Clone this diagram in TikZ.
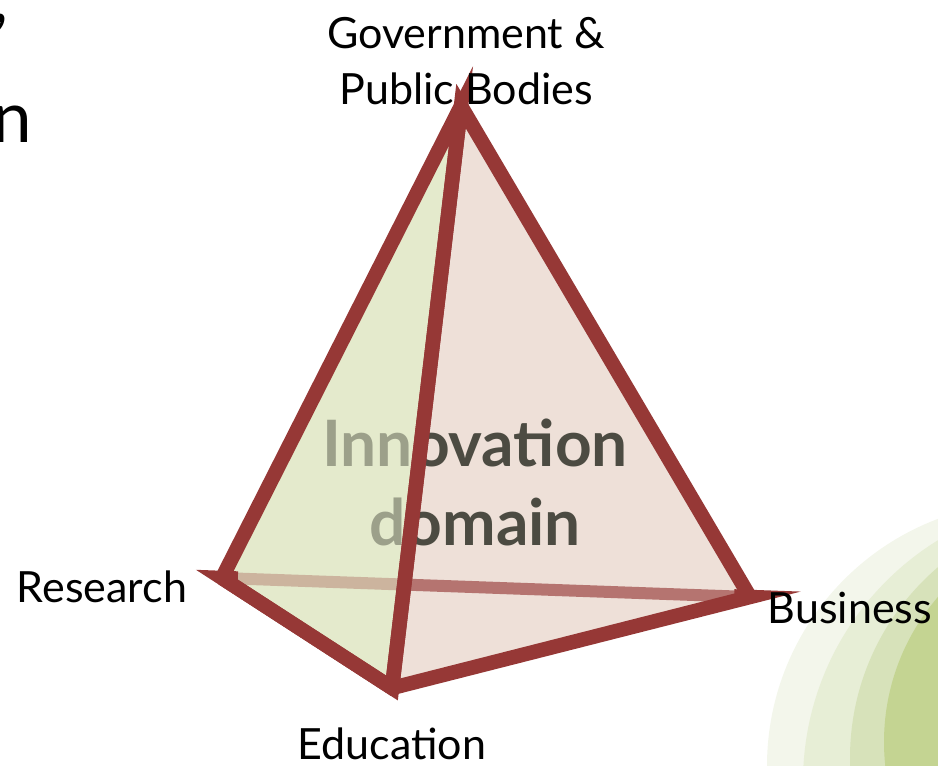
\documentclass[tikz,border=0pt]{standalone}
\usepackage{fontspec}
\setmainfont{Lato}
\usetikzlibrary{calc}
\definecolor{edgered}{RGB}{150,56,54}
\definecolor{facegreen}{RGB}{228,234,204}
\definecolor{facepink}{RGB}{238,224,216}
\definecolor{arcA}{RGB}{243,246,235}
\definecolor{arcB}{RGB}{231,238,214}
\definecolor{arcC}{RGB}{215,226,186}
\definecolor{arcD}{RGB}{196,212,146}
\definecolor{txtdark}{RGB}{48,50,40}
\begin{document}
\begin{tikzpicture}[x=1pt,y=-1pt,
  edge/.style={draw=edgered,line width=14.5pt,line join=miter,miter limit=10},
  backedge/.style={draw=edgered,line width=12pt,opacity=0.75},
  lbl/.style={font=\fontsize{43}{50}\selectfont,inner sep=0pt,anchor=base},
  title/.style={font=\fontsize{64}{68}\selectfont\bfseries,text=txtdark,inner sep=0pt,anchor=base},
  frag/.style={font=\fontsize{71}{80}\selectfont,inner sep=0pt}]
\useasboundingbox (0,0) rectangle (938,766);
\begin{scope}
\clip (0,0) rectangle (938,766);
\fill[arcA] (1031,766) circle (264);
\fill[arcB] (1087,782) circle (284);
\fill[arcC] (1101,758) circle (251);
\fill[arcD] (1106,742) circle (222);
\node[frag,anchor=base east] (fragy) at (9,22) {,};
\node[frag,anchor=base east] (fragn) at (32,142) {n};
\end{scope}
\coordinate (T) at (461,106);
\coordinate (R) at (222,578);
\coordinate (E) at (392,688);
\coordinate (B) at (750,597);
\fill[facepink] (T) -- (E) -- (B) -- cycle;
\fill[facegreen] (T) -- (R) -- (E) -- cycle;
\draw[backedge] (R) -- (B);
\node[title] (inn) at (475,466) {Innovation};
\node[title] (dom) at (475,545) {domain};
\fill[facegreen,opacity=0.6] (T) -- (R) -- (E) -- cycle;
\fill[facepink,opacity=0.15] (T) -- (E) -- (B) -- cycle;
\draw[edge] ($(R)!0.03!(B)$) -- (R) -- (E) -- (B) -- ($(B)!0.03!(R)$);
\draw[edge] (R) -- (E) -- (T) -- (B);
\draw[edge] (R) -- (T) -- (E);
\node[lbl] (gov1) at (466,48) {Government \&};
\node[lbl] (gov2) at (466,104) {Public Bodies};
\node[lbl] (res) at (102,602) {Research};
\node[lbl] (bus) at (850,623) {Business};
\node[lbl] (edu) at (392,759) {Education};
\end{tikzpicture}
\end{document}
